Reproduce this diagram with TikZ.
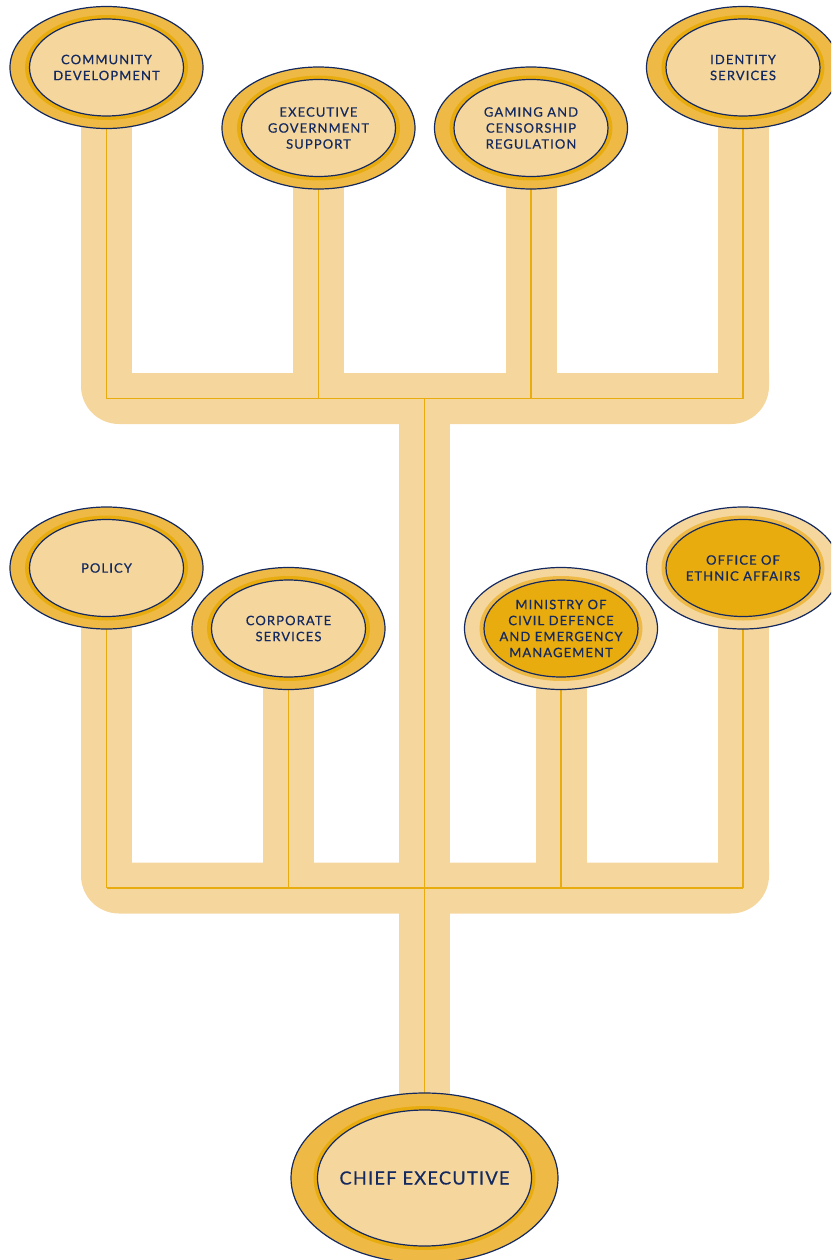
\documentclass[tikz,border=0pt]{standalone}
\usepackage{fontspec}
\usetikzlibrary{shapes.geometric,backgrounds}
\newfontfamily\lblfont[LetterSpace=8.5,FakeBold=0.5]{Lato}
\newfontfamily\bigfont[LetterSpace=7,FakeBold=0.5]{Lato}
\definecolor{bandc}{HTML}{F5D79E}
\definecolor{ringc}{HTML}{EEBA45}
\definecolor{rimc}{HTML}{E8AC0E}
\definecolor{navyc}{HTML}{14295F}
\tikzset{
  oval/.style={ellipse,inner sep=0pt,outer sep=0pt},
  outerval/.style={oval,draw=navyc,line width=1.2pt,minimum width=193pt,minimum height=122pt},
  rimval/.style={oval,minimum width=163pt,minimum height=105pt},
  innerval/.style={oval,draw=navyc,line width=1.2pt,minimum width=154pt,minimum height=97pt},
  labeltext/.style={inner sep=0pt,text=navyc,align=center,font=\lblfont\fontsize{13}{16}\selectfont},
  outerbig/.style={minimum width=267pt,minimum height=170pt},
  rimbig/.style={minimum width=222pt,minimum height=144pt},
  innerbig/.style={minimum width=214pt,minimum height=136pt},
  labelbig/.style={font=\bigfont\fontsize{18.2}{22}\selectfont},
  band/.style={draw=bandc,line width=51pt},
  busfill/.style={fill=bandc},
  wire/.style={draw=rimc,line width=1.2pt},
}
% name, x, y, text, outer colour, rim colour, inner colour
\newcommand{\orgoval}[7]{%
  \node[outerval,fill=#5] (#1) at (#2,#3) {};
  \node[rimval,fill=#6] (#1r) at (#2,#3) {};
  \node[innerval,fill=#7] (#1i) at (#2,#3) {};
  \node[labeltext] (#1t) at (#2,#3) {#4};
}
\begin{document}
\begin{tikzpicture}[x=1pt,y=-1pt]
\useasboundingbox (0,0) rectangle (831,1260);
\clip (0,0) rectangle (831,1260);
\orgoval{comm}{106.5}{67.5}{COMMUNITY\\DEVELOPMENT}{ringc}{rimc}{bandc}
\orgoval{exec}{318.5}{128}{EXECUTIVE\\GOVERNMENT\\SUPPORT}{ringc}{rimc}{bandc}
\orgoval{gaming}{531}{128}{GAMING AND\\CENSORSHIP\\REGULATION}{ringc}{rimc}{bandc}
\orgoval{ident}{743}{67.5}{IDENTITY\\SERVICES}{ringc}{rimc}{bandc}
\orgoval{policy}{106.5}{568}{POLICY}{ringc}{rimc}{bandc}
\orgoval{corp}{288.5}{628.5}{CORPORATE\\SERVICES}{ringc}{rimc}{bandc}
\orgoval{civil}{561}{628.5}{MINISTRY OF\\CIVIL DEFENCE\\AND EMERGENCY\\MANAGEMENT}{bandc}{ringc}{rimc}
\orgoval{ethnic}{743}{568}{OFFICE OF\\ETHNIC AFFAIRS}{bandc}{ringc}{rimc}
\node[outerval,outerbig,fill=ringc] (chief) at (424.5,1178) {};
\node[rimval,rimbig,fill=rimc] (chiefr) at (424.5,1178) {};
\node[innerval,innerbig,fill=bandc] (chiefi) at (424.5,1178) {};
\node[labeltext,labelbig] (chieft) at (424.5,1178) {CHIEF EXECUTIVE};
\coordinate (busa) at (424.5,398.5);
\coordinate (busb) at (424.5,888);
\coordinate (topa) at (424.5,373);
\coordinate (topb) at (424.5,862.5);
\begin{scope}[on background layer]
  % wide bands
  \fill[busfill] (81,373) [rounded corners=38pt] -- (81,424) -- (769,424) [sharp corners] -- (769,373) -- cycle;
  \fill[busfill] (81,862.5) [rounded corners=38pt] -- (81,913.5) -- (769,913.5) [sharp corners] -- (769,862.5) -- cycle;
  \foreach \n in {comm,exec,gaming,ident}{
    \draw[band] (\n.center) -- (\n.center |- topa);
  }
  \foreach \n in {policy,corp,civil,ethnic}{
    \draw[band] (\n.center) -- (\n.center |- topb);
  }
  \draw[band] (busa) -- (chief.center);
  % thin lines
  \foreach \n in {comm,exec,gaming,ident}{
    \draw[wire] (\n.center) -- (\n.center |- busa);
  }
  \foreach \n in {policy,corp,civil,ethnic}{
    \draw[wire] (\n.center) -- (\n.center |- busb);
  }
  \draw[wire] (comm.center |- busa) -- (ident.center |- busa);
  \draw[wire] (policy.center |- busb) -- (ethnic.center |- busb);
  \draw[wire] (busa) -- (chief.center);
\end{scope}
\end{tikzpicture}
\end{document}
